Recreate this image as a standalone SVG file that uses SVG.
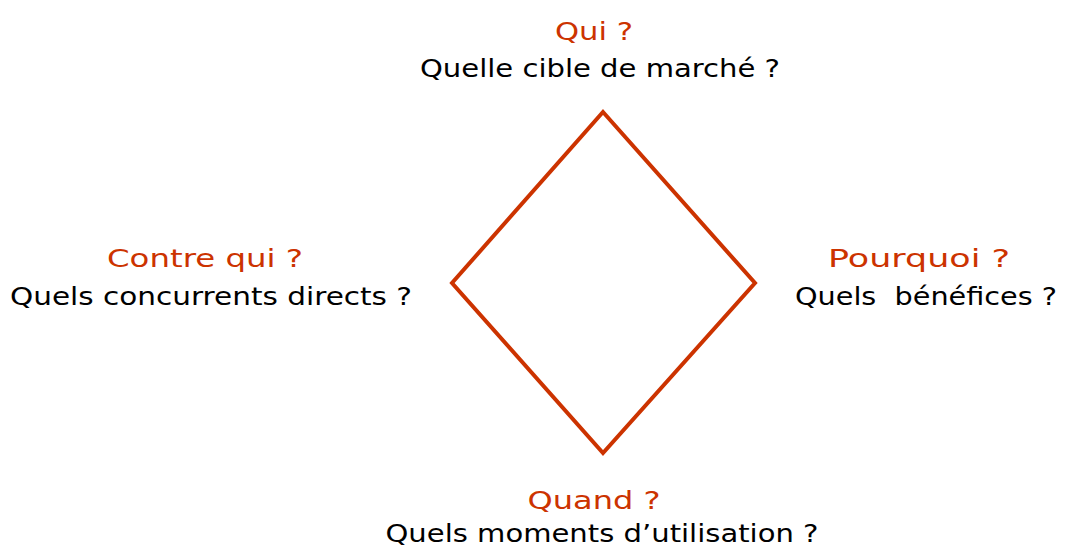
<svg xmlns="http://www.w3.org/2000/svg" width="1066" height="549" viewBox="0 0 1066 549">
<style>
.q{font-family:"DejaVu Sans",Verdana,sans-serif;font-size:25px;fill:#CC3300;text-anchor:middle}
.t{font-family:"DejaVu Sans",Verdana,sans-serif;font-size:25px;fill:#000000;text-anchor:middle}
.d{fill:none;stroke:#CC3300;stroke-width:4;stroke-linejoin:miter}
</style>
<rect width="1066" height="549" fill="#ffffff"/>
<g id="diamond"><polygon class="d" points="603,112 755,283 603,453 452,283"/></g>
<g id="connectors"></g>
<g id="top">
<text class="q" x="594" y="40" textLength="78" lengthAdjust="spacingAndGlyphs">Qui ?</text>
<text class="t" x="600" y="77" textLength="360" lengthAdjust="spacingAndGlyphs">Quelle cible de marché ?</text>
</g>
<g id="left">
<text class="q" x="205" y="267" textLength="196" lengthAdjust="spacingAndGlyphs">Contre qui ?</text>
<text class="t" x="211" y="305" textLength="402" lengthAdjust="spacingAndGlyphs">Quels concurrents directs ?</text>
</g>
<g id="right">
<text class="q" x="919" y="267" textLength="182" lengthAdjust="spacingAndGlyphs">Pourquoi ?</text>
<text class="t" x="926" y="305" textLength="262" lengthAdjust="spacingAndGlyphs" xml:space="preserve">Quels  bénéfices ?</text>
</g>
<g id="bottom">
<text class="q" x="594" y="509" textLength="133" lengthAdjust="spacingAndGlyphs">Quand ?</text>
<text class="t" x="602" y="542" textLength="433" lengthAdjust="spacingAndGlyphs">Quels moments d’utilisation ?</text>
</g>
</svg>
